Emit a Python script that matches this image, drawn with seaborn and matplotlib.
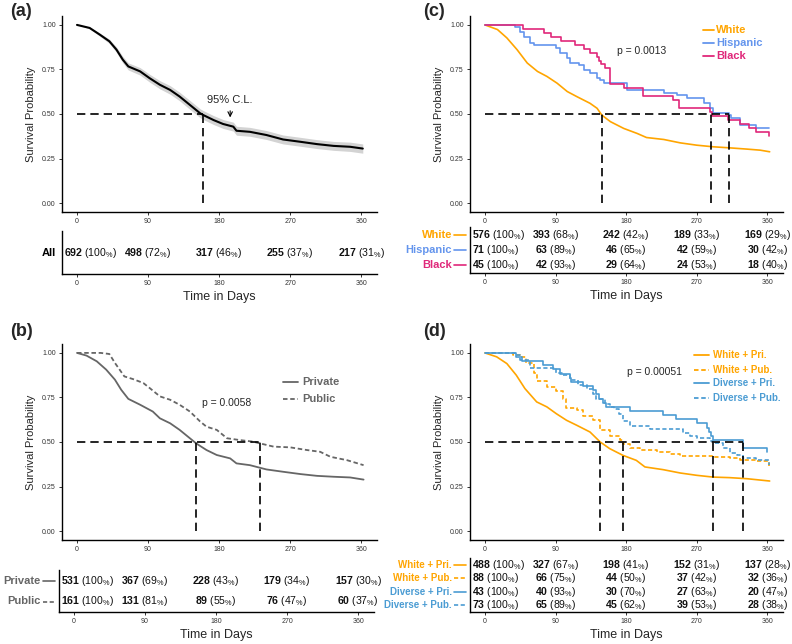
import pandas as pd
import matplotlib
matplotlib.use("Agg")
import matplotlib.pyplot as plt
import matplotlib.transforms as mtransforms
import seaborn as sns

# ---------- dane ----------
days = [0, 90, 180, 270, 360]

# (a) wszyscy pacjenci
all_t = [0, 16, 29, 41, 50, 58, 65, 80, 92, 105, 118, 130, 143, 156, 160, 173,
         185, 198, 202, 219, 240, 261, 283, 304, 325, 346, 362]
all_s = [1.00, .983, .945, .908, .861, .805, .767, .739, .701, .664, .635, .598,
         .551, .504, .494, .466, .444, .429, .406, .400, .382, .357, .344, .331,
         .321, .316, .306]
all_ci = [0, .005, .009, .012, .015, .018, .020, .021, .022, .023, .024, .024,
          .025, .025, .025, .025, .025, .025, .025, .025, .025, .025, .025, .025,
          .025, .026, .026]
all_median = [160]
all_n = [692, 498, 317, 255, 217]
all_pct = [100, 72, 46, 37, 31]

# (b) ubezpieczenie
private_t = [0, 12, 25, 37, 48, 56, 65, 80, 96, 105, 118, 130, 143, 151, 164, 177,
             194, 202, 219, 240, 261, 283, 304, 325, 346, 363]
private_s = [1, .985, .953, .906, .850, .793, .742, .709, .671, .633, .605, .568,
             .521, .492, .455, .427, .408, .380, .370, .346, .333, .320, .310, .305,
             .301, .289]
public_t = [0, 30, 41, 48, 54, 60, 71, 84, 92, 105, 118, 130, 143, 156, 164, 177,
            190, 206, 223, 232, 249, 270, 291, 308, 321, 342, 363]
public_s = [1, 1.0, .994, .944, .906, .868, .853, .831, .803, .756, .737, .709, .671,
            .615, .586, .568, .521, .511, .502, .492, .474, .470, .455, .445, .417,
            .398, .370]
ins_median = [151, 232]
private_n = [531, 367, 228, 179, 157]
private_pct = [100, 69, 43, 34, 30]
public_n = [161, 131, 89, 76, 60]
public_pct = [100, 81, 55, 47, 37]

# (c) rasa
white_t = [0, 16, 28, 41, 54, 67, 79, 92, 105, 117, 134, 143, 149, 160, 177, 194,
           206, 228, 249, 270, 291, 312, 334, 351, 363]
white_s = [1, .974, .927, .861, .786, .739, .711, .673, .626, .598, .560, .532, .494,
           .457, .419, .391, .368, .357, .338, .325, .316, .310, .303, .297, .288]
hisp_t = [0, 38, 45, 50, 58, 62, 90, 96, 105, 109, 120, 126, 134, 143, 147, 152,
          181, 228, 245, 258, 279, 287, 291, 311, 314, 325, 346, 362]
hisp_s = [1, .986, .958, .930, .901, .887, .873, .845, .817, .789, .775, .746, .732,
          .704, .690, .676, .634, .620, .606, .592, .563, .535, .507, .493, .479,
          .437, .423, .423]
black_t = [0, 49, 75, 84, 97, 115, 126, 134, 143, 145, 148, 153, 160, 177, 202, 240,
           247, 287, 289, 310, 325, 337, 346, 362]
black_s = [1, .978, .956, .933, .911, .889, .867, .844, .822, .800, .778, .756, .667,
           .644, .600, .578, .533, .511, .489, .467, .444, .422, .400, .378]
race_median = [149, 288, 311]
white_n = [576, 393, 242, 189, 169]
white_pct = [100, 68, 42, 33, 29]
hisp_n = [71, 63, 46, 42, 30]
hisp_pct = [100, 89, 65, 59, 42]
black_n = [45, 42, 29, 24, 18]
black_pct = [100, 93, 64, 53, 40]

# (d) rasa + ubezpieczenie
wpri_t = [0, 15, 28, 40, 51, 66, 79, 91, 104, 117, 134, 147, 159, 176, 193, 204, 227,
          249, 270, 291, 312, 334, 363]
wpri_s = [1, .978, .940, .875, .800, .725, .697, .659, .622, .594, .556, .500, .463,
          .425, .397, .360, .345, .326, .313, .303, .300, .294, .281]
wpub_t = [0, 36, 45, 53, 62, 66, 79, 91, 100, 104, 117, 125, 138, 147, 159, 172, 176,
          185, 198, 219, 236, 249, 291, 312, 325, 346, 362]
wpub_s = [1, .989, .977, .943, .886, .841, .807, .784, .739, .693, .682, .648, .625,
          .568, .534, .511, .489, .466, .455, .443, .432, .420, .415, .409, .400,
          .395, .364]
dpri_t = [0, 40, 47, 74, 87, 96, 108, 110, 125, 138, 142, 145, 151, 154, 185, 227,
          244, 270, 283, 286, 288, 291, 329, 359]
dpri_s = [1, .977, .953, .930, .907, .884, .860, .837, .814, .791, .767, .744, .721,
          .698, .674, .651, .628, .605, .581, .558, .535, .512, .465, .442]
dpub_t = [0, 38, 45, 57, 91, 100, 108, 119, 130, 138, 142, 153, 159, 164, 171, 176,
          185, 210, 253, 261, 270, 287, 291, 304, 312, 321, 329, 346, 362]
dpub_s = [1, .986, .959, .918, .890, .877, .849, .822, .795, .767, .740, .712, .699,
          .685, .658, .616, .589, .575, .548, .534, .521, .507, .493, .466, .438,
          .425, .411, .397, .370]
combo_median = [147, 176, 291, 329]
wpri_n = [488, 327, 198, 152, 137]
wpri_pct = [100, 67, 41, 31, 28]
wpub_n = [88, 66, 44, 37, 32]
wpub_pct = [100, 75, 50, 42, 36]
dpri_n = [43, 40, 30, 27, 20]
dpri_pct = [100, 93, 70, 63, 47]
dpub_n = [73, 65, 45, 39, 28]
dpub_pct = [100, 89, 62, 53, 38]

ORANGE = "#FFA500"
HISP = "#6495ED"
BLACK = "#E0287A"
DIVERSE = "#4B9CD3"
GRAY = "#666666"
SHORT = (2.5, 1.5)

W, H = 792, 644

sns.set_style("ticks")
plt.rcParams["font.family"] = ["Liberation Sans", "DejaVu Sans"]
plt.rcParams["mathtext.fontset"] = "custom"
plt.rcParams["mathtext.rm"] = "Liberation Sans"
plt.rcParams["mathtext.bf"] = "Liberation Sans:bold"
plt.rcParams["mathtext.it"] = "Liberation Sans:italic"


def rect(l, t, r, b):
    """
    Zamienia piksele na wspolrzedne figury
    """
    return [l / W, 1 - b / H, (r - l) / W, (b - t) / H]


def style_axis(ax):
    ax.set_xlim(-19, 380)
    ax.set_xticks(days)
    ax.tick_params(labelsize=5, length=2.5, width=0.7, colors="#333333", pad=2)
    for sp in ("left", "bottom"):
        ax.spines[sp].set_linewidth(1.0)
        ax.spines[sp].set_color("black")
    sns.despine(ax=ax)


def km_line(ax, t, s, color, dashes=None, steps=False, lw=1.2):
    df = pd.DataFrame({"time": t, "surv": s})
    sns.lineplot(data=df, x="time", y="surv", ax=ax, color=color, linewidth=lw,
                 estimator=None, sort=False,
                 drawstyle="steps-post" if steps else "default")
    if dashes:
        ax.lines[-1].set_dashes(dashes)


def main_axes(ax, medians):
    style_axis(ax)
    ax.set_ylim(-0.05, 1.05)
    ax.set_yticks([0, 0.25, 0.5, 0.75, 1])
    ax.set_yticklabels(["0.00", "0.25", "0.50", "0.75", "1.00"])
    ax.set_xlabel("")
    ax.set_ylabel("Survival Probability", fontsize=8, labelpad=4)
    ax.plot([0, max(medians)], [0.5, 0.5], color="black", lw=1.2, dashes=(5, 3))
    for m in medians:
        ax.plot([m, m], [0, 0.5], color="black", lw=1.2, dashes=(5, 3))


def legend(ax, entries, x0, x1, xt, ys, size):
    for (label, color, dashes), y in zip(entries, ys):
        ln, = ax.plot([x0, x1], [y, y], transform=ax.transAxes, color=color,
                      lw=1.3, clip_on=False)
        if dashes:
            ln.set_dashes(dashes)
        ax.text(xt, y, label, transform=ax.transAxes, color=color, fontsize=size,
                fontweight="bold", va="center", ha="left")


def risk_table(ax, rows, lab_size=8, line=True):
    """
    Tabela liczby pacjentow w ryzyku
    """
    style_axis(ax)
    k = len(rows)
    ax.set_ylim(-0.5, k - 0.5)
    ax.set_yticks([])
    ax.set_xlabel("Time in Days", fontsize=9, labelpad=3)
    tr = mtransforms.blended_transform_factory(ax.transAxes, ax.transData)
    w = ax.get_position().width * W
    for i, (label, color, dashes, n, pct) in enumerate(rows):
        y = k - 1 - i
        for j, t in enumerate(days):
            txt = f"$\\mathbf{{{n[j]}}}$ ({pct[j]}$_{{\\%}}$)"
            if j == 0:
                ax.text(-16, y, txt, ha="left", va="center", fontsize=7.6, color="#111111")
            else:
                ax.text(t, y, txt, ha="center", va="center", fontsize=7.6, color="#111111")
        if line:
            ax.text(-18 / w, y, label, transform=tr, ha="right", va="center",
                    color=color, fontweight="bold", fontsize=lab_size)
            ln, = ax.plot([-16 / w, -4 / w], [y, y], transform=tr, color=color,
                          lw=1.2, clip_on=False)
            if dashes:
                ln.set_dashes(dashes)
        else:
            ax.text(-6 / w, y, label, transform=tr, ha="right", va="center",
                    color=color, fontweight="bold", fontsize=lab_size)


fig = plt.figure(figsize=(7.92, 6.44), dpi=100)

# ---- (a)
ax = fig.add_axes(rect(62, 16, 377, 212))
lo = [s - c for s, c in zip(all_s, all_ci)]
hi = [s + c for s, c in zip(all_s, all_ci)]
ax.fill_between(all_t, lo, hi, color="#d3d3d3", lw=0)
km_line(ax, all_t, all_s, "black", lw=1.5)
main_axes(ax, all_median)
ax.annotate("95% C.L.", xy=(194, 0.465), xytext=(194, 0.58), ha="center",
            va="center", fontsize=8,
            arrowprops=dict(arrowstyle="->", color="black", lw=0.8))
tb = fig.add_axes(rect(62, 231, 377, 274))
risk_table(tb, [("All", "black", None, all_n, all_pct)], lab_size=8, line=False)

# ---- (b)
ax = fig.add_axes(rect(62, 344, 377, 540))
km_line(ax, private_t, private_s, GRAY, lw=1.3)
km_line(ax, public_t, public_s, GRAY, dashes=SHORT, lw=1.3)
main_axes(ax, ins_median)
ax.text(158, 0.72, "p = 0.0058", fontsize=7.5, va="center")
legend(ax, [("Private", GRAY, None), ("Public", GRAY, SHORT)],
       0.702, 0.749, 0.762, [0.806, 0.719], 8)
tb = fig.add_axes(rect(59, 570, 374, 612))
risk_table(tb, [("Private", GRAY, None, private_n, private_pct),
                ("Public", GRAY, SHORT, public_n, public_pct)])

# ---- (c)
ax = fig.add_axes(rect(470, 16, 783, 212))
km_line(ax, white_t, white_s, ORANGE)
km_line(ax, hisp_t, hisp_s, HISP, steps=True)
km_line(ax, black_t, black_s, BLACK, steps=True)
main_axes(ax, race_median)
ax.text(168, 0.854, "p = 0.0013", fontsize=7.5, va="center")
legend(ax, [("White", ORANGE, None), ("Hispanic", HISP, None), ("Black", BLACK, None)],
       0.744, 0.780, 0.786, [0.929, 0.862, 0.796], 8)
tb = fig.add_axes(rect(470, 227, 783, 273))
risk_table(tb, [("White", ORANGE, None, white_n, white_pct),
                ("Hispanic", HISP, None, hisp_n, hisp_pct),
                ("Black", BLACK, None, black_n, black_pct)])

# ---- (d)
ax = fig.add_axes(rect(470, 344, 783, 540))
km_line(ax, wpri_t, wpri_s, ORANGE)
km_line(ax, wpub_t, wpub_s, ORANGE, dashes=SHORT, steps=True)
km_line(ax, dpri_t, dpri_s, DIVERSE, steps=True)
km_line(ax, dpub_t, dpub_s, DIVERSE, dashes=SHORT, steps=True)
main_axes(ax, combo_median)
ax.text(181, 0.893, "p = 0.00051", fontsize=7.5, va="center")
legend(ax, [("White + Pri.", ORANGE, None), ("White + Pub.", ORANGE, SHORT),
            ("Diverse + Pri.", DIVERSE, None), ("Diverse + Pub.", DIVERSE, SHORT)],
       0.716, 0.764, 0.776, [0.944, 0.867, 0.801, 0.724], 7)
tb = fig.add_axes(rect(470, 558, 783, 612))
risk_table(tb, [("White + Pri.", ORANGE, None, wpri_n, wpri_pct),
                ("White + Pub.", ORANGE, SHORT, wpub_n, wpub_pct),
                ("Diverse + Pri.", DIVERSE, None, dpri_n, dpri_pct),
                ("Diverse + Pub.", DIVERSE, SHORT, dpub_n, dpub_pct)], lab_size=7)

for x, y, lab in [(10, 11, "(a)"), (423, 11, "(c)"), (10, 331, "(b)"), (423, 331, "(d)")]:
    fig.text(x / W, 1 - y / H, lab, fontsize=13, fontweight="bold", va="center")

fig.savefig("out.png", dpi=100)
